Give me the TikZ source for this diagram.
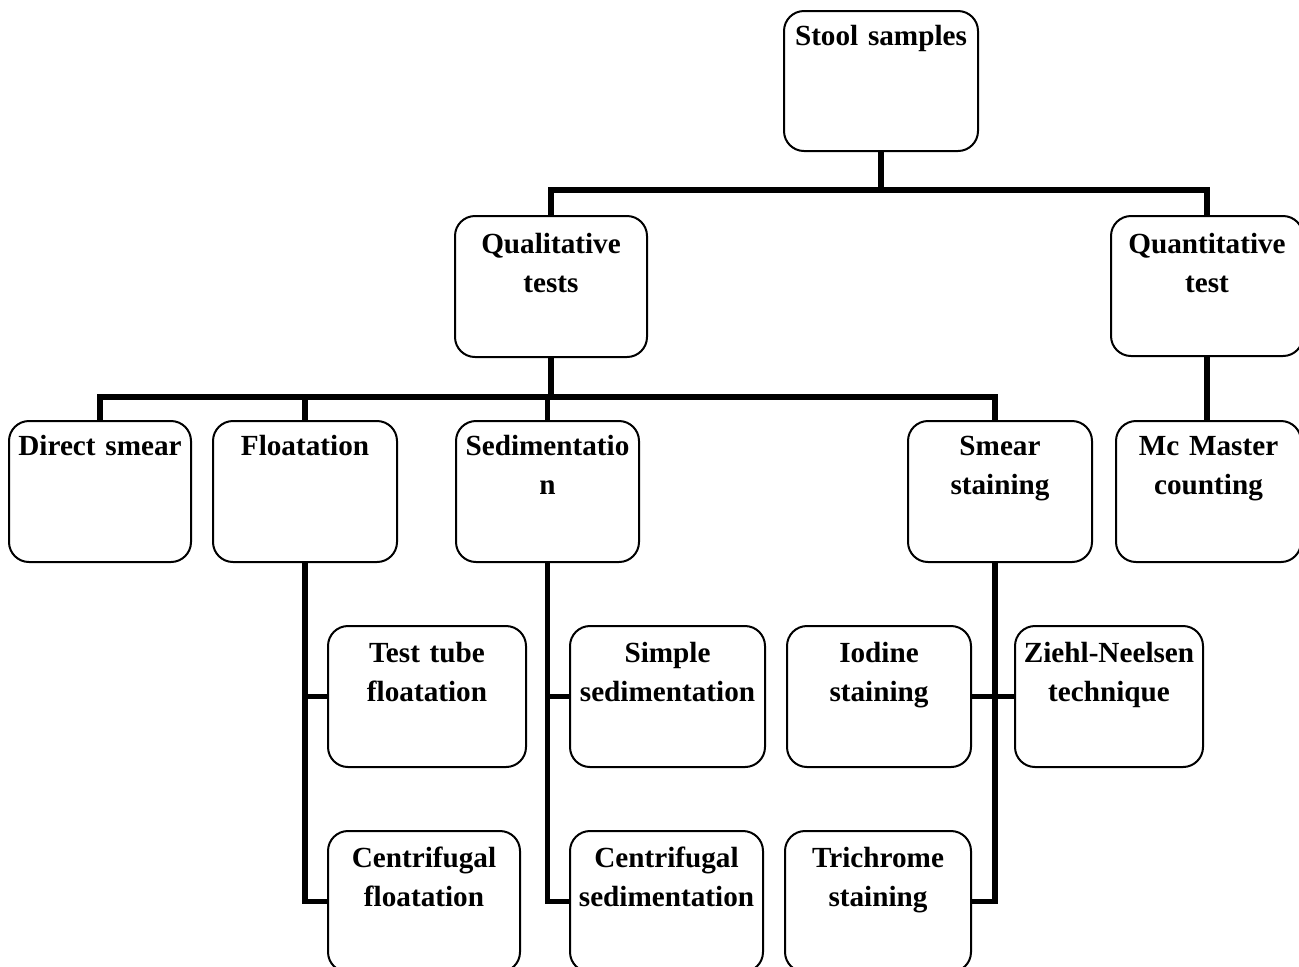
\documentclass[tikz,border=0pt]{standalone}
\usepackage{fontspec}
\setmainfont{Liberation Serif}
\begin{document}
\begin{tikzpicture}[x=0.5pt,y=-0.5pt,
  box/.style={draw, line width=1pt, rounded corners=10pt, inner sep=0pt, anchor=north west},
  conn/.style={line width=2.6pt},
  lbl/.style={anchor=base, align=center, inner sep=0pt, text width=110pt,
    font=\fontsize{14.6}{19.5}\selectfont\bfseries}]
\useasboundingbox (0,0) rectangle (1299,966);
\clip (0,0) rectangle (1299,966);
% boxes
\node[box, minimum width=97pt, minimum height=70pt] (stool) at (783,10) {};
\node[box, minimum width=96pt, minimum height=70.5pt] (qual) at (454,215) {};
\node[box, minimum width=96pt, minimum height=70pt] (quant) at (1110,215) {};
\node[box, minimum width=91pt, minimum height=70.5pt] (direct) at (8,420) {};
\node[box, minimum width=92pt, minimum height=70.5pt] (float) at (212,420) {};
\node[box, minimum width=91.5pt, minimum height=70.5pt] (sed) at (455,420) {};
\node[box, minimum width=92pt, minimum height=70.5pt] (smear) at (907,420) {};
\node[box, minimum width=92.5pt, minimum height=70.5pt] (mcm) at (1115,420) {};
\node[box, minimum width=99pt, minimum height=70.5pt] (ttf) at (327,625) {};
\node[box, minimum width=96pt, minimum height=70.5pt] (cfl) at (327,830) {};
\node[box, minimum width=97.5pt, minimum height=70.5pt] (ssd) at (569,625) {};
\node[box, minimum width=96.5pt, minimum height=70.5pt] (csd) at (569,830) {};
\node[box, minimum width=92pt, minimum height=70.5pt] (iod) at (786,625) {};
\node[box, minimum width=94pt, minimum height=70.5pt] (zn) at (1014,625) {};
\node[box, minimum width=93pt, minimum height=70.5pt] (tri) at (784,830) {};
% labels
\node[lbl] (tstool) at ([yshift=-17.5pt]stool.north) {Stool samples};
\node[lbl] (tqual) at ([yshift=-19pt]qual.north) {Qualitative\\tests};
\node[lbl] (tquant) at ([yshift=-19pt]quant.north) {Quantitative\\test};
\node[lbl] (tdirect) at ([yshift=-17.5pt]direct.north) {Direct smear};
\node[lbl] (tfloat) at ([yshift=-17.5pt]float.north) {Floatation};
\node[lbl] (tsed) at ([yshift=-17.5pt]sed.north) {Sedimentatio\\n};
\node[lbl] (tsmear) at ([yshift=-17.5pt]smear.north) {Smear\\staining};
\node[lbl] (tmcm) at ([yshift=-17.5pt]mcm.north) {Mc Master\\counting};
\node[lbl] (tttf) at ([yshift=-18.5pt]ttf.north) {Test tube\\floatation};
\node[lbl] (tcfl) at ([yshift=-18.5pt]cfl.north) {Centrifugal\\floatation};
\node[lbl] (tssd) at ([yshift=-18.5pt]ssd.north) {Simple\\sedimentation};
\node[lbl] (tcsd) at ([yshift=-18.5pt]csd.north) {Centrifugal\\sedimentation};
\node[lbl] (tiod) at ([yshift=-18.5pt]iod.north) {Iodine\\staining};
\node[lbl] (tzn) at ([yshift=-18.5pt]zn.north) {Ziehl-Neelsen\\technique};
\node[lbl] (ttri) at ([yshift=-18.5pt]tri.north) {Trichrome\\staining};
% junctions
\coordinate (j1) at (stool.south |- 0,190);
\coordinate (j2) at (qual.south |- 0,397);
\coordinate (smn) at ([xshift=-2.5pt]smear.north);
\coordinate (sms) at ([xshift=-2.5pt]smear.south);
% connectors
\draw[conn] (stool.south) -- (j1);
\draw[conn] (qual.north) |- (j1) -| (quant.north);
\draw[conn] (qual.south) -- (j2);
\draw[conn] (direct.north) |- (j2) -| (smn);
\draw[conn] (float.north) -- (float.north |- j2);
\draw[conn] (sed.north) -- (sed.north |- j2);
\draw[conn] (quant.south) -- (quant.south |- mcm.north);
\draw[conn] (float.south) |- (cfl.west);
\draw[conn] (float.south |- ttf.west) -- (ttf.west);
\draw[conn] (sed.south) |- (csd.west);
\draw[conn] (sed.south |- ssd.west) -- (ssd.west);
\draw[conn] (sms) |- (tri.east);
\draw[conn] (iod.east) -- (zn.west);
\end{tikzpicture}
\end{document}
